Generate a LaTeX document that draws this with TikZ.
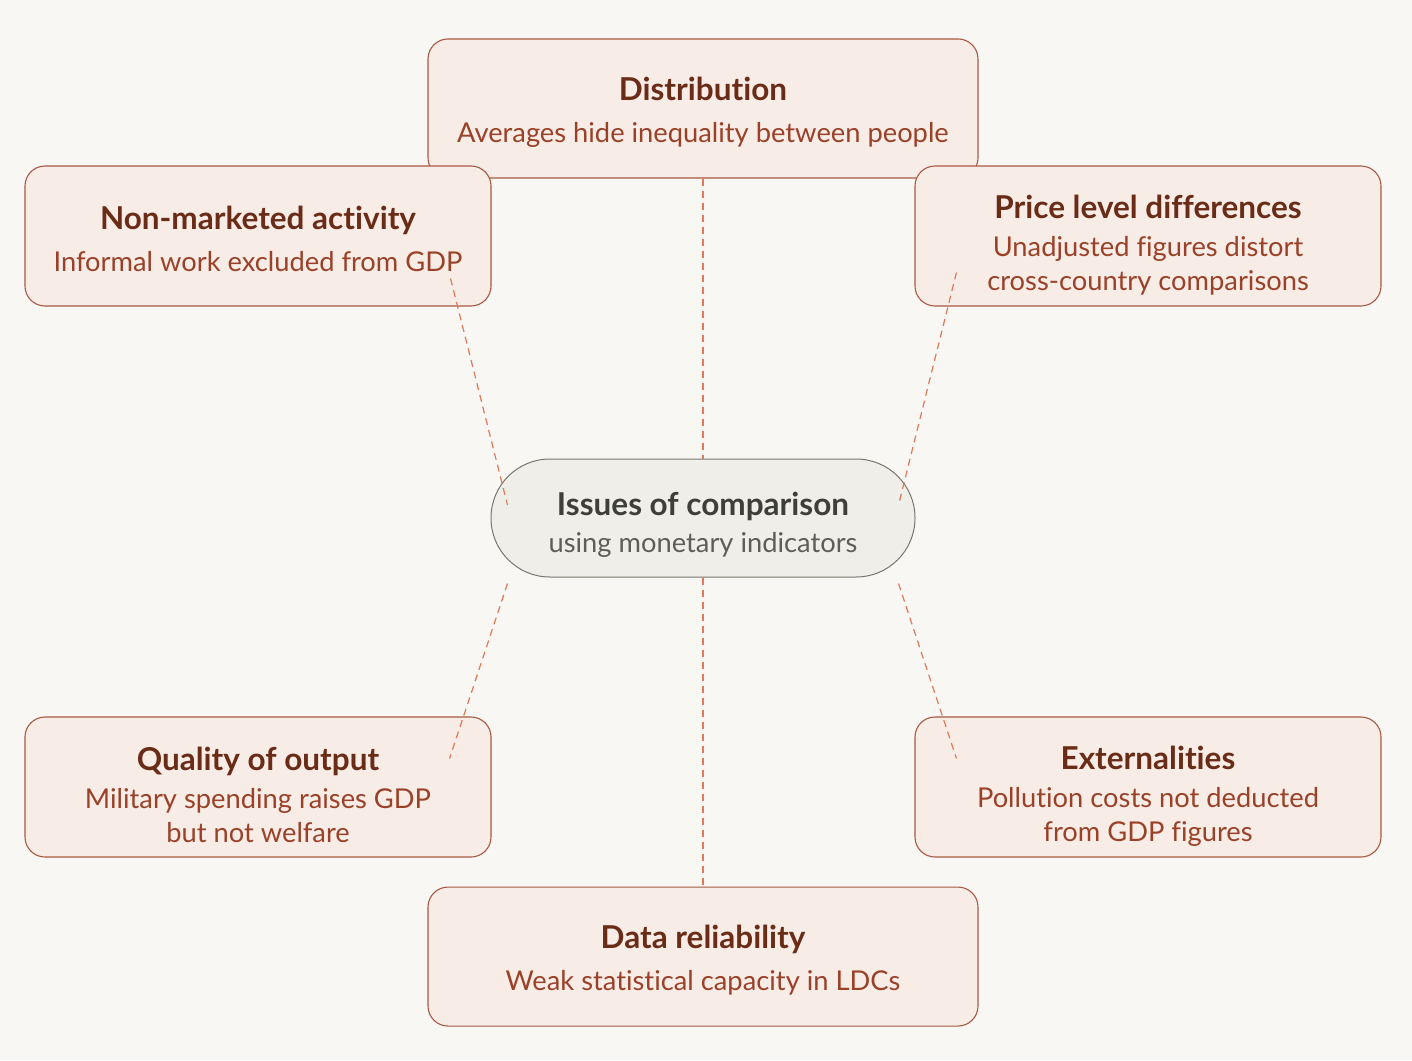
\documentclass[tikz,border=0pt]{standalone}
\usepackage{fontspec}
\setmainfont{Lato}[Ligatures={NoCommon,NoRare}]
\usepackage{tikz}
\usetikzlibrary{positioning}
\usepackage{xcolor}
\definecolor{bgcol}{HTML}{F8F7F4}
\definecolor{boxfill}{HTML}{F8ECE7}
\definecolor{boxline}{HTML}{A85A42}
\definecolor{titlecol}{HTML}{6A2C17}
\definecolor{subcol}{HTML}{9A4128}
\definecolor{linkcol}{HTML}{E07A58}
\definecolor{hubfill}{HTML}{EFEEE9}
\definecolor{hubline}{HTML}{77776F}
\definecolor{hubtitle}{HTML}{3E3E3A}
\definecolor{hubsub}{HTML}{5E5E58}
% 标题: [上方留白]{文字}{标题与说明的间距}
\newcommand{\boxtitle}[3][8pt]{{\fontsize{31.5}{34}\selectfont\bfseries\color{titlecol}\raisebox{0pt}[\dimexpr\height+#1\relax]{#2}}\\[#3]}
\newcommand{\hubtitletext}[1]{{\fontsize{31.5}{34}\selectfont\bfseries\color{hubtitle}\raisebox{0pt}[\dimexpr\height+14pt\relax]{#1}}\\[3pt]}

\begin{document}
\begin{tikzpicture}[
		x=1pt, y=-1pt,
		issuebox/.style={rectangle, draw=boxline, fill=boxfill, line width=1.1pt, rounded corners=20pt, minimum width=466pt, minimum height=140pt, align=center, text=subcol, font=\fontsize{27.3}{34}\selectfont},  % 六个问题框
		widebox/.style={issuebox, minimum width=550pt, minimum height=139pt},  % 上下两个宽框
		hub/.style={rectangle, draw=hubline, fill=hubfill, line width=1pt, rounded corners=58.9pt, minimum width=424pt, minimum height=118pt, align=center, text=hubsub, font=\fontsize{27.3}{34}\selectfont},  % 中心胶囊
		link/.style={draw=linkcol, line width=1.2pt, dash pattern=on 7pt off 5pt}  % 虚线连接
		]
		% 背景
		\fill[bgcol] (0,0) rectangle (1412,1060);
		\useasboundingbox (0,0) rectangle (1412,1060);
		% 中心节点
		\node[hub] (issues) at (703,518) {\hubtitletext{Issues of comparison}using monetary indicators};
		% 上下两个框
		\node[widebox, above=280pt of issues] (distrib) {\boxtitle{Distribution}{8pt}Averages hide inequality between people};
		\node[widebox, below=309pt of issues] (datarel) {\boxtitle{Data reliability}{8pt}Weak statistical capacity in LDCs};
		% 左右四个框
		\node[issuebox] (nonmkt) at (258,236) {\boxtitle[6pt]{Non-marketed activity}{8pt}Informal work excluded from GDP};
		\node[issuebox] (pricelvl) at (1148,236) {\boxtitle[18pt]{Price level differences}{4pt}Unadjusted figures distort\\cross-country comparisons};
		\node[issuebox] (quality) at (258,787) {\boxtitle[16pt]{Quality of output}{4pt}Military spending raises GDP\\but not welfare};
		\node[issuebox] (extern) at (1148,787) {\boxtitle[18pt]{Externalities}{4pt}Pollution costs not deducted\\from GDP figures};
		% 虚线 - 从中心到各个框
		\draw[link] (distrib.south) -- (issues.north);
		\draw[link] (issues.south) -- (datarel.north);
		\draw[link] ([shift={(-41,-28)}]nonmkt.south east) -- ([shift={(17,-13)}]issues.west);
		\draw[link] ([shift={(42,-34)}]pricelvl.south west) -- ([shift={(-17,-13)}]issues.east);
		\draw[link] ([shift={(17,6)}]issues.south west) -- ([shift={(-42,42)}]quality.north east);
		\draw[link] ([shift={(-17,6)}]issues.south east) -- ([shift={(42,42)}]extern.north west);
	\end{tikzpicture}
\end{document}
